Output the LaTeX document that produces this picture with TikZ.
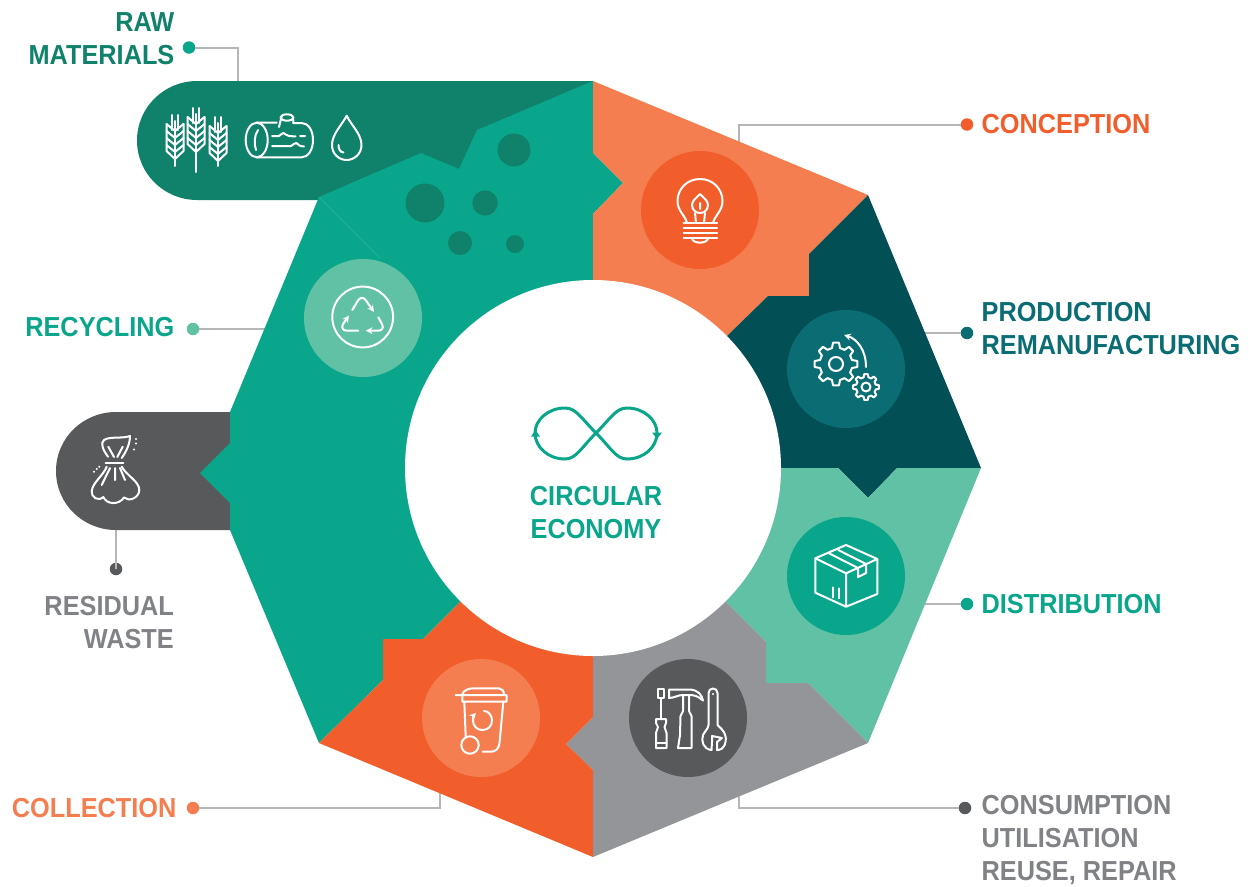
\documentclass[tikz,border=0pt]{standalone}
\usepackage{fontspec}
\setmainfont[FakeStretch=0.92]{Liberation Sans}
\usepackage{tikz}
\usetikzlibrary{arrows,positioning}

\definecolor{tealc}{HTML}{0AA68C}
\definecolor{greenc}{HTML}{10826B}
\definecolor{mintc}{HTML}{61C1A5}
\definecolor{orangec}{HTML}{F15D2B}
\definecolor{peachc}{HTML}{F47E4F}
\definecolor{petrolc}{HTML}{034F56}
\definecolor{petrollight}{HTML}{0A6D74}
\definecolor{grayc}{HTML}{939598}
\definecolor{graytext}{HTML}{808285}
\definecolor{slatec}{HTML}{58595B}
\definecolor{leaderc}{HTML}{B5B6B8}

\newcommand{\wheatear}[3]{
	\draw[icon] (#1-3,#2) -- (#1-3,#2+15) (#1+3,#2) -- (#1+3,#2+15) (#1,#2+6) -- (#1,#3);
	\draw[icon] (#1-8.5,#2+9) -- (#1-8.5,#2+36) -- (#1,#2+44) -- (#1+8.5,#2+36) -- (#1+8.5,#2+9);
	\foreach \d in {9,16,23,30} {
		\draw[icon] (#1-8.5,#2+\d) -- (#1,#2+\d+7) -- (#1+8.5,#2+\d);
	}
}
\newcommand{\gearwheel}[5]{
	\foreach \a in {0,45,...,315} {
		\draw[icon, shift={(#1,#2)}] (\a-14:#4) -- (\a-8:#3) -- (\a+8:#3) -- (\a+14:#4) -- (\a+31:#4);
	}
	\draw[icon] (#1,#2) circle (#5);
}

\begin{document}
\begin{tikzpicture}[>=stealth, x=1pt, y=-1pt]
	\tikzstyle{disc} = [circle, minimum size=118pt, inner sep=0pt]
	\tikzstyle{dot} = [circle, minimum size=12.5pt, inner sep=0pt]
	\tikzstyle{leader} = [draw=leaderc, line width=2pt, to path={-| (\tikztotarget)}]
	\tikzstyle{icon} = [draw=white, line width=2pt, line join=round, line cap=round]
	\tikzstyle{caption} = [inner sep=0pt, font=\fontsize{27.5}{33}\selectfont\bfseries]
	\useasboundingbox (0,0) rectangle (1249,886);

	% dots, their labels and the ends of the leaders
	\node[dot, fill=tealc] (dotraw) at (189,47.5) {};
	\node[dot, fill=orangec] (dotconception) at (967,124.5) {};
	\node[dot, fill=petrollight] (dotproduction) at (967,333) {};
	\node[dot, fill=tealc] (dotdistribution) at (967,604) {};
	\node[dot, fill=slatec] (dotconsumption) at (965,808) {};
	\node[dot, fill=peachc] (dotcollection) at (193,808) {};
	\node[dot, fill=mintc] (dotrecycling) at (193,329) {};
	\node[dot, fill=slatec] (dotresidual) at (116,569) {};

	\node[caption, text=greenc, align=right, left=8pt of dotraw, yshift=9pt] (labelraw) {RAW\\MATERIALS};
	\node[caption, text=orangec, right=8pt of dotconception] (labelconception) {CONCEPTION};
	\node[caption, text=petrollight, align=left, right=8pt of dotproduction, yshift=4pt] (labelproduction) {PRODUCTION\\REMANUFACTURING};
	\node[caption, text=tealc, right=8pt of dotdistribution] (labeldistribution) {DISTRIBUTION};
	\node[caption, text=graytext, align=left, right=10pt of dotconsumption, yshift=-32pt] (labelconsumption) {CONSUMPTION\\UTILISATION\\REUSE, REPAIR};
	\node[caption, text=peachc, left=10pt of dotcollection] (labelcollection) {COLLECTION};
	\node[caption, text=tealc, left=12pt of dotrecycling, yshift=2pt] (labelrecycling) {RECYCLING};
	\node[caption, text=graytext, align=right, below=21pt of dotresidual, xshift=58pt, anchor=north east] (labelresidual) {RESIDUAL\\WASTE};

	\coordinate (endraw) at (238,90);
	\coordinate (endconception) at (739,160);
	\coordinate (endproduction) at (900,333);
	\coordinate (enddistribution) at (900,604);
	\coordinate (endconsumption) at (739,780);
	\coordinate (endcollection) at (440,780);
	\coordinate (endrecycling) at (280,329);
	\coordinate (endresidual) at (116,520);

	\path
	(dotraw) edge[leader] (endraw)
	(dotconception) edge[leader] (endconception)
	(dotproduction) edge[leader] (endproduction)
	(dotdistribution) edge[leader] (enddistribution)
	(dotconsumption) edge[leader] (endconsumption)
	(dotcollection) edge[leader] (endcollection)
	(dotrecycling) edge[leader] (endrecycling)
	(dotresidual) edge[leader] (endresidual)
	;

	% the two tabs behind the ring
	\fill[greenc] (197,200) .. controls (164,200) and (137,173.5) .. (137,140.5) .. controls (137,107.5) and (164,81) .. (197,81) -- (593,81) -- (593,200) -- cycle;
	\fill[slatec] (116,530) .. controls (83,530) and (56,504) .. (56,471) .. controls (56,438) and (83,412) .. (116,412) -- (240,412) -- (240,530) -- cycle;

	% the ring, every piece runs to the centre under the white disc
	\fill[tealc] (593,81) -- (477,130) -- (459,169) -- (421,153) -- (319,197) -- (230,412) -- (230,443) -- (200,473) -- (230,503) -- (230,530) -- (319,743) -- (383,680) -- (383,639) -- (423,639) -- (460,602) -- (593,468) -- (593,214) -- (623,183) -- (593,153) -- cycle;
	\fill[peachc] (593,81) -- (868,195) -- (809,254) -- (809,296) -- (768,296) -- (727,336) -- (593,468) -- (593,214) -- (623,183) -- (593,153) -- cycle;
	\fill[petrolc] (868,195) -- (981,468) -- (897,468) -- (868,498) -- (838,468) -- (593,468) -- (727,336) -- (768,296) -- (809,296) -- (809,254) -- cycle;
	\fill[mintc] (981,468) -- (868,743) -- (808,683) -- (766,683) -- (766,642) -- (727,603) -- (593,468) -- (838,468) -- (868,498) -- (897,468) -- cycle;
	\fill[grayc] (593,857) -- (868,743) -- (808,683) -- (766,683) -- (766,642) -- (727,603) -- (593,468) -- (593,717) -- (566,744) -- (593,770) -- cycle;
	\fill[orangec] (593,857) -- (319,743) -- (383,680) -- (383,639) -- (423,639) -- (460,602) -- (593,468) -- (593,717) -- (566,744) -- (593,770) -- cycle;
	\draw[tealc!85!white, line width=0.4pt] (319,197) -- (380,258);

	\foreach \x/\y/\r in {514/150/16.5, 425/203/19.5, 485/203/12.7, 460/243/12, 515/244/9} {
		\fill[greenc] (\x,\y) circle (\r);
	}

	\node[disc, minimum size=376pt, fill=white] (hub) at (593,468) {};
	\node[disc, fill=orangec] (discbulb) at (700,210) {};
	\node[disc, fill=petrollight] (discgears) at (846,369) {};
	\node[disc, fill=tealc] (discbox) at (846,576) {};
	\node[disc, fill=slatec] (disctools) at (688,718) {};
	\node[disc, fill=peachc] (discbin) at (481,718) {};
	\node[disc, fill=mintc] (discrecycle) at (363,318) {};

	% centre
	\draw[tealc, line width=3pt] (596,433) .. controls (581,418) and (576,408) .. (565,408) .. controls (548,408) and (535,420) .. (535,433) .. controls (535,447) and (548,459) .. (565,459) .. controls (576,459) and (581,448) .. (596,433) .. controls (611,418) and (616,408) .. (627,408) .. controls (644,408) and (657,420) .. (657,433) .. controls (657,447) and (644,459) .. (627,459) .. controls (616,459) and (611,448) .. (596,433);
	\fill[tealc] (535.5,430) -- (531,436.5) -- (540,436.5) -- cycle;
	\fill[tealc] (657,439) -- (652,432.5) -- (662,432.5) -- cycle;
	\node[caption, text=tealc, align=center] (labelcircular) at (596,513) {CIRCULAR\\ECONOMY};

	% raw materials
	\wheatear{175}{115}{166}
	\wheatear{196}{108}{172}
	\wheatear{218}{117}{166}
	\draw[icon] (256.7,140) ellipse (11 and 17.3);
	\draw[icon] (258,130) .. controls (254,136) and (254,144) .. (256,150);
	\draw[icon] (256.7,122.7) -- (276.7,122.7) (256.7,157.3) -- (301.7,157.3) .. controls (308,157.3) and (313,150) .. (313,140) .. controls (313,130) and (308,123) .. (301.7,123) -- (293,123) (279,127) -- (281.7,116);
	\draw[icon] (287,117.5) ellipse (6.5 and 3.2);
	\draw[icon] (293,118) -- (293.5,123);
	\draw[icon] (272,136) -- (279,136) .. controls (281,135) and (282,133) .. (283.5,133) .. controls (285,133) and (286,136) .. (289,136) -- (295.5,136.5) (300,136) -- (305,136);
	\draw[icon] (272,146) -- (291,146) .. controls (293,145) and (295,142.5) .. (296.5,143) .. controls (298,144) and (299,146.5) .. (304,146.5);
	\draw[icon] (346.7,115.7) .. controls (342,125) and (332,134) .. (332,145) .. controls (332,154) and (339,160) .. (346.7,160) .. controls (354,160) and (361.5,154) .. (361.5,145) .. controls (361.5,134) and (351,125) .. (346.7,115.7);
	\draw[icon] (338.5,145) .. controls (338.5,149) and (340,152) .. (343.5,152.5);

	% recycling
	\draw[icon] (362.7,317) circle (30.4);
	\draw[icon, ->] (352.3,310) -- (358,300.5) .. controls (360,297) and (364,297) .. (366,300.5) -- (374,312);
	\draw[icon, ->] (378.3,317.3) -- (382,324) .. controls (384,328) and (382,330.7) .. (378,330.7) -- (365.7,330.7);
	\draw[icon, ->] (358.3,330.7) -- (347,330.7) .. controls (343,330.7) and (341,328) .. (343,324) -- (349,315.5);

	% residual waste
	\draw[icon] (108,456.7) .. controls (103,450) and (100,443) .. (104,440) .. controls (110,436) and (122,439) .. (130,436) .. controls (130,444) and (126,452) .. (121.7,458);
	\draw[icon] (108.3,446.7) -- (114,457) (122.7,446.7) -- (117.3,457);
	\draw[icon] (105.7,463.3) -- (123.3,463.3);
	\draw[icon] (106.7,466.7) .. controls (103,476) and (93,482) .. (91.7,491) .. controls (91,497) and (98,502) .. (103.3,497) .. controls (107,505) and (119,505) .. (124,497.5) .. controls (129,502) and (139,498) .. (139.3,490) .. controls (139,481) and (127,476) .. (121.7,466.7);
	\draw[icon] (110,468) -- (101.7,485) (120,468) -- (125,480) (115,468) -- (115,480);
	\foreach \x/\y in {136/439, 136/443.5, 134/449.5, 99.3/466.7, 96.7/469, 94/471.7} {
		\fill[white] (\x,\y) circle (1.1);
	}

	% conception
	\draw[icon] (687,223) .. controls (685,215) and (677.5,211) .. (677.5,201) .. controls (677.5,189) and (687,179) .. (700,179) .. controls (713,179) and (722.5,189) .. (722.5,201) .. controls (722.5,211) and (715,215) .. (713,223);
	\draw[icon] (700,194) .. controls (696,198) and (692,201) .. (692,205) .. controls (692,210) and (696,213) .. (700,213) .. controls (704,213) and (708,210) .. (708,205) .. controls (708,201) and (704,198) .. (700,194);
	\draw[icon] (700,203) -- (700,209) (695,213) -- (696,223) (705,213) -- (704,223);
	\foreach \y in {223.3,228.3,233.3,238.3} {
		\draw[icon] (683.5,\y) -- (717,\y);
	}
	\draw[icon] (692,238.5) .. controls (693,244) and (707,244) .. (708,238.5);

	% production
	\gearwheel{836}{364}{21.5}{16.5}{7}
	\gearwheel{866}{387}{13}{10}{4.5}
	\draw[icon, ->] (866,367) .. controls (866,350) and (857,339) .. (844,335);

	% distribution
	\draw[icon] (846,545) -- (877.3,559) -- (846,573.3) -- (815.3,558.3) -- cycle;
	\draw[icon] (815.3,558.3) -- (815.3,592.7) -- (846,606.7) -- (877.3,594) -- (877.3,559) (846,573.3) -- (846,606.7);
	\draw[icon] (829,553.3) -- (858,568) -- (858,577) -- (866,573) -- (866,564) -- (838.3,550);
	\draw[icon] (833.3,587.3) -- (833.3,597.3) (839.3,588.3) -- (839.3,598.3);

	% consumption
	\draw[icon] (658,689) rectangle (663.5,698);
	\draw[icon] (660.7,698) -- (660.7,719);
	\draw[icon] (656,719) -- (666,719) -- (666,723) -- (664.5,727) -- (666.5,733) -- (666.5,748) -- (656,748) -- (656,733) -- (658,727) -- (656,723) -- cycle;
	\draw[icon] (656,743) -- (666.5,743);
	\draw[icon] (669,689.5) -- (690,689.5) .. controls (698,690) and (702,695) .. (703,700.5) .. controls (698,696) and (694,695) .. (689,695) -- (683,695) .. controls (678,695) and (674,698) .. (669,698) -- cycle;
	\draw[icon] (683,695) -- (683,711) -- (680.5,716) -- (680,735) -- (678,748) -- (691.5,748) -- (691.5,716) -- (689,711) -- (689,695);
	\draw[icon] (708.5,693) .. controls (708.5,687) and (717.5,687) .. (717.5,693) -- (717.5,725) .. controls (723,730) and (727,734) .. (725.5,742) .. controls (724,749) and (720,750) .. (717,750) -- (717,742) -- (722,738) -- (712,736) -- (712,742) -- (711.5,750) .. controls (703,749) and (701,741) .. (703,735) .. controls (705,731) and (708,729) .. (708.5,725) -- cycle;
	\fill[white] (713,694) circle (1.2);

	% collection
	\draw[icon] (455.7,695) -- (506.5,695) -- (506.5,701.7) -- (462.3,701.7) -- (462.3,695) .. controls (462.3,690) and (470,688.3) .. (473,688.3) -- (499,688.3) .. controls (502,688.3) and (504,691) .. (504,695);
	\draw[icon] (464.3,701.7) -- (465.7,736.7);
	\draw[icon] (503.3,701.7) -- (499.5,743) .. controls (499,749) and (495,751.7) .. (491,751.7) -- (482.7,751.7);
	\draw[icon] (470,745) circle (8.7);
	\draw[icon, ->] (484,711) .. controls (489,711) and (492,716) .. (492,720.5) .. controls (492,726) and (488,730) .. (482.3,730) .. controls (477,730) and (473,726) .. (473,720.5) .. controls (473,717) and (474,715) .. (476,713);
\end{tikzpicture}
\end{document}
